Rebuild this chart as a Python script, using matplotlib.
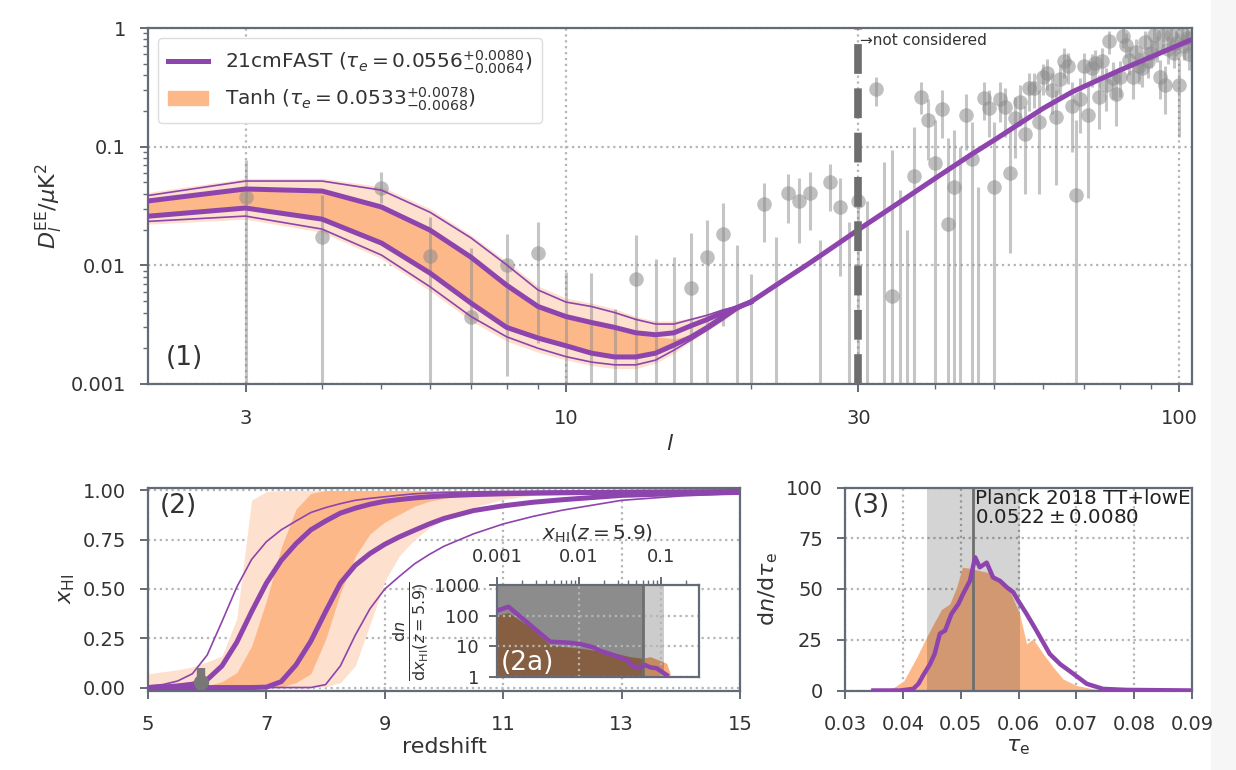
import numpy as np
import matplotlib.pyplot as plt
from matplotlib.ticker import FixedLocator, FixedFormatter, NullFormatter
from matplotlib.patches import Rectangle, Patch
from matplotlib.lines import Line2D

# ---- panel (1): EE power spectrum ----
ell_data = np.arange(3, 106)
dl_val = [0.038, 0.0173, 0.0448, 0.0120, 0.0037, 0.0100, 0.0127, np.nan, np.nan, np.nan,
          0.0077, np.nan, np.nan, 0.0064, 0.0117, 0.0184, np.nan, np.nan, 0.0328, np.nan,
          0.0407, 0.0348, 0.0407, np.nan, 0.050, 0.031, np.nan, 0.035, np.nan, 0.306,
          np.nan, 0.0055, np.nan, np.nan, 0.0565, 0.262, 0.167, 0.073, 0.207, 0.0223,
          0.0457, np.nan, 0.185, 0.0785, np.nan, 0.257, 0.21, 0.0457, 0.252, 0.215,
          0.06, 0.174, 0.237, 0.128, 0.31, 0.31, 0.16, 0.385, 0.42, 0.30,
          0.177, 0.37, 0.53, 0.48, 0.22, 0.039, 0.25, 0.48, 0.185, 0.46,
          0.51, 0.26, 0.53, 0.33, 0.77, 0.38, 0.28, 0.39, 0.85, 0.72,
          0.54, 0.39, 0.63, 0.48, 0.46, 0.76, 0.53, 0.62, 0.87, 0.68,
          0.39, 0.87, 0.33, 0.67, 0.87, 0.62, 0.75, 0.33, 0.90, 0.70,
          0.82, 0.60, 0.85]
dl_lo = [1e-5, 1e-5, 0.0335, 1e-5, 1e-5, 0.00116, 0.0022, 1e-5, 1e-5, 1e-5,
         1e-5, 1e-5, 1e-5, 1e-5, 1e-5, 0.0031, 1e-5, 1e-5, 0.0157, 1e-5,
         0.0227, 0.0154, 0.0198, 1e-5, 0.0287, 0.0081, 1e-5, 1e-5, 1e-5, 0.22,
         1e-5, 1e-5, 1e-5, 1e-5, 1e-5, 0.19, 0.077, 1e-5, 0.118, 1e-5,
         1e-5, 1e-5, 0.093, 1e-5, 1e-5, 0.167, 0.12, 1e-5, 0.16, 0.12,
         0.0127, 0.08, 0.15, 0.04, 0.20, 0.21, 0.04, 0.27, 0.30, 0.19,
         0.0475, 0.25, 0.38, 0.34, 0.09, 1e-5, 0.13, 0.34, 0.037, 0.32,
         0.37, 0.14, 0.38, 0.20, 0.60, 0.25, 0.15, 0.26, 0.68, 0.56,
         0.40, 0.25, 0.48, 0.34, 0.32, 0.60, 0.38, 0.46, 0.70, 0.52,
         0.25, 0.70, 0.19, 0.50, 0.70, 0.46, 0.58, 0.12, 0.72, 0.54,
         0.65, 0.44, 0.68]
dl_hi = [0.077, 0.039, 0.061, 0.0255, 0.014, 0.0184, 0.0232, 0.0088, 0.0086, 0.0043,
         0.018, 0.0113, 0.0117, 0.0187, 0.024, 0.0335, 0.0148, 0.0084, 0.049, 0.0173,
         0.0588, 0.0545, 0.061, 0.0163, 0.0713, 0.0545, 0.023, 0.045, 0.035, 0.385,
         0.074, 0.094, 0.043, 0.02, 0.146, 0.35, 0.25, 0.167, 0.30, 0.118,
         0.138, 0.10, 0.28, 0.16, 0.0457, 0.35, 0.30, 0.16, 0.35, 0.31,
         0.138, 0.26, 0.33, 0.22, 0.42, 0.42, 0.30, 0.50, 0.55, 0.42,
         0.30, 0.50, 0.68, 0.62, 0.35, 0.167, 0.38, 0.62, 0.33, 0.60,
         0.65, 0.40, 0.68, 0.46, 0.95, 0.52, 0.42, 0.53, 1.05, 0.90,
         0.70, 0.53, 0.80, 0.63, 0.61, 0.94, 0.69, 0.79, 1.06, 0.86,
         0.54, 1.06, 0.48, 0.85, 1.06, 0.80, 0.93, 0.55, 1.08, 0.88,
         1.00, 0.78, 1.03]

ell_band = np.arange(2, 21)
cm_hi68 = [0.034, 0.044, 0.0423, 0.031, 0.0198, 0.0117, 0.0068, 0.0045, 0.0037, 0.0033,
           0.0030, 0.0027, 0.0026, 0.0027, 0.0031, 0.0035, 0.0040, 0.0044, 0.0049]
cm_lo68 = [0.0255, 0.0304, 0.0245, 0.0154, 0.0086, 0.0048, 0.0030, 0.00244, 0.0021, 0.00182,
           0.00169, 0.00169, 0.00182, 0.00213, 0.00249, 0.0030, 0.00367, 0.0044, 0.0049]
cm_hi95 = [0.0376, 0.0513, 0.0513, 0.043, 0.028, 0.017, 0.0101, 0.0062, 0.0049, 0.0045,
           0.0040, 0.0035, 0.0032, 0.0032, 0.0035, 0.0038, 0.0042, 0.0045, 0.0049]
cm_lo95 = [0.0232, 0.026, 0.0202, 0.0122, 0.0066, 0.0037, 0.0025, 0.0020, 0.0017, 0.00153,
           0.00145, 0.00145, 0.00159, 0.00193, 0.00235, 0.00285, 0.00346, 0.0042, 0.0049]
th_hi68 = [0.033, 0.043, 0.041, 0.030, 0.019, 0.0113, 0.0066, 0.0044, 0.0036, 0.0032,
           0.0029, 0.0026, 0.0025, 0.0024, 0.0026, 0.0031, 0.0038, 0.0044, 0.0049]
th_lo68 = [0.026, 0.031, 0.025, 0.0157, 0.0088, 0.0049, 0.0031, 0.0025, 0.00215, 0.00186,
           0.00172, 0.00172, 0.00185, 0.00215, 0.0025, 0.0030, 0.0037, 0.0044, 0.0049]
th_hi95 = [0.040, 0.054, 0.054, 0.046, 0.030, 0.018, 0.0108, 0.0067, 0.0053, 0.0048,
           0.0043, 0.0037, 0.0034, 0.0034, 0.0036, 0.0039, 0.0043, 0.0046, 0.0049]
th_lo95 = [0.022, 0.0245, 0.019, 0.0114, 0.0061, 0.0034, 0.0023, 0.00185, 0.0016, 0.00143,
           0.00135, 0.00135, 0.0015, 0.00182, 0.0023, 0.0028, 0.0034, 0.0041, 0.0049]

ell_tail = [20, 22, 25, 30, 35, 40, 46, 50, 60, 67, 80, 90, 100, 105]
cm_tail = [0.0049, 0.0068, 0.0105, 0.020, 0.034, 0.054, 0.087, 0.114, 0.21, 0.29, 0.44, 0.57, 0.72, 0.80]

# ---- panel (2): neutral fraction history ----
z = [5.0, 5.25, 5.5, 5.75, 6.0, 6.25, 6.5, 6.75, 7.0, 7.25, 7.5, 7.75, 8.0, 8.25,
     8.5, 8.75, 9.0, 9.25, 9.5, 9.75, 10.0, 10.5, 11.0, 11.5, 12.0, 13.0, 14.0, 15.0]
x_cm95_hi = [0.008, 0.015, 0.033, 0.07, 0.165, 0.335, 0.51, 0.65, 0.74, 0.80, 0.845, 0.888, 0.913, 0.933,
             0.95, 0.96, 0.968, 0.976, 0.983, 0.987, 0.99, 0.993, 0.995, 0.996, 0.997, 0.998, 0.999, 0.999]
x_cm68_hi = [0.0, 0.003, 0.008, 0.017, 0.04, 0.11, 0.23, 0.385, 0.53, 0.645, 0.73, 0.80, 0.845, 0.885,
             0.91, 0.93, 0.945, 0.954, 0.962, 0.968, 0.973, 0.979, 0.983, 0.986, 0.988, 0.991, 0.993, 0.995]
x_cm68_lo = [0.0, 0.0, 0.0, 0.0, 0.0, 0.0, 0.0, 0.0, 0.002, 0.03, 0.115, 0.235, 0.385, 0.53,
             0.62, 0.68, 0.727, 0.765, 0.798, 0.83, 0.858, 0.898, 0.922, 0.94, 0.953, 0.975, 0.984, 0.99]
x_cm95_lo = [0.0, 0.0, 0.0, 0.0, 0.0, 0.0, 0.0, 0.0, 0.0, 0.0, 0.0, 0.0, 0.015, 0.11,
             0.265, 0.40, 0.50, 0.565, 0.627, 0.675, 0.717, 0.78, 0.83, 0.868, 0.90, 0.95, 0.972, 0.985]
x_th95_hi = [0.07, 0.08, 0.09, 0.105, 0.13, 0.16, 0.35, 0.95, 0.995, 1.0, 1.0, 1.0, 1.0, 1.0,
             1.0, 1.0, 1.0, 1.0, 1.0, 1.0, 1.0, 1.0, 1.0, 1.0, 1.0, 1.0, 1.0, 1.0]
x_th95_lo = [0.0, 0.0, 0.0, 0.0, 0.0, 0.0, 0.0, 0.0, 0.0, 0.0, 0.0, 0.0, 0.003, 0.025,
             0.11, 0.32, 0.54, 0.67, 0.75, 0.81, 0.855, 0.915, 0.955, 0.975, 0.99, 1.0, 1.0, 1.0]
x_th68_hi = [0.0, 0.0, 0.0, 0.005, 0.01, 0.03, 0.076, 0.21, 0.44, 0.71, 0.905, 0.985, 1.0, 1.0,
             1.0, 1.0, 1.0, 1.0, 1.0, 1.0, 1.0, 1.0, 1.0, 1.0, 1.0, 1.0, 1.0, 1.0]
x_th68_lo = [0.0, 0.0, 0.0, 0.0, 0.0, 0.0, 0.0, 0.0, 0.0, 0.003, 0.025, 0.07, 0.244, 0.48,
             0.665, 0.78, 0.84, 0.88, 0.92, 0.945, 0.96, 0.982, 0.99, 0.995, 0.998, 1.0, 1.0, 1.0]
mcg_z = [5.9]
mcg_x = [0.03]
mcg_err = [[0.04], [0.07]]

# ---- panel (2a): x_HI(z=5.9) distribution ----
xhi_cm = [0.001, 0.00138, 0.00443, 0.00776, 0.0103, 0.015, 0.018, 0.0262, 0.0382, 0.046,
          0.0555, 0.0638, 0.0734, 0.0886, 0.102, 0.117]
dn_cm = [145, 196, 14.2, 13.1, 11.9, 9.3, 7.2, 5.2, 3.6, 2.2, 2.07, 2.46, 2.07, 1.92, 1.49, 1.16]
xhi_th = [0.001, 0.00138, 0.00252, 0.00443, 0.0103, 0.0262, 0.0419, 0.0587, 0.0734, 0.0935,
          0.117, 0.129]
dn_th = [105, 125, 43.7, 11, 8.6, 6.2, 4.6, 4.1, 4.6, 3.6, 2.8, 1.3]
mcg_limit = 0.06
mcg_limit_1s = 0.11

# ---- panel (3): tau_e distribution ----
tau_cm = [0.0349, 0.0395, 0.0418, 0.0427, 0.0435, 0.0447, 0.0455, 0.0464, 0.0473, 0.0484,
          0.0496, 0.0504, 0.0516, 0.0525, 0.0533, 0.0545, 0.0556, 0.0568, 0.058, 0.0591,
          0.060, 0.0614, 0.0631, 0.0654, 0.0672, 0.0695, 0.0718, 0.0746, 0.0786, 0.09]
dn_tau_cm = [0, 0, 0.8, 3.3, 7.4, 13, 18, 28, 29.5, 37.7,
             42.6, 47.5, 54, 65.6, 60.7, 63, 55.7, 54, 50.8, 48.4,
             44, 37.7, 29.5, 18, 13, 8.2, 3.3, 0.8, 0.3, 0]
tau_th = [0.0363, 0.0385, 0.0402, 0.0424, 0.0438, 0.0453, 0.0467, 0.0481, 0.0493, 0.0503,
          0.0516, 0.0533, 0.055, 0.0568, 0.0585, 0.0602, 0.0614, 0.0625, 0.0643, 0.066,
          0.0677, 0.070, 0.0729, 0.0755]
dn_tau_th = [0, 1.6, 4.9, 16.4, 24.6, 32.8, 40, 42.6, 50.8, 60.7,
             60.2, 59, 58, 54, 49, 37.7, 23, 25.4, 18, 11.5,
             5.7, 2.5, 0.8, 0]
planck_tau = 0.0522
planck_err = 0.0080

# ---- style ----
purple = '#8e44ad'
orange = '#fdb88a'
orange_lt = '#fde0cd'
spine_c = '#646b77'
text_c = '#333333'
grid_kw = dict(color='#b5b5b5', ls=':', lw=1.6)

plt.rcParams.update({
    'font.family': ['DejaVu Sans'],
    'mathtext.fontset': 'dejavusans',
    'text.color': text_c,
    'axes.labelcolor': text_c,
    'xtick.color': spine_c,
    'ytick.color': spine_c,
    'xtick.labelcolor': text_c,
    'ytick.labelcolor': text_c,
    'xtick.labelsize': 14,
    'ytick.labelsize': 14,
    'axes.edgecolor': spine_c,
    'axes.linewidth': 1.6,
})


def style(ax):
    ax.set_axisbelow(True)
    ax.grid(True, which='major', **grid_kw)
    ax.tick_params(which='major', length=6, width=1.4)
    ax.tick_params(which='minor', length=3.5, width=1.0)
    ax.tick_params(axis='x', which='both', pad=12)
    ax.tick_params(axis='y', which='both', pad=10)


fig = plt.figure(figsize=(12.36, 7.7), dpi=100)
fig.add_artist(Rectangle((1211 / 1236, 0), 25 / 1236, 1, transform=fig.transFigure,
                         color='#f6f6f7', zorder=0))

# panel 1
ax1 = fig.add_axes([148 / 1236, 1 - 384 / 770, 1044 / 1236, 356 / 770])
ax1.set_xscale('log')
ax1.set_yscale('log')
ax1.fill_between(ell_band, th_lo95, th_hi95, color=orange_lt, lw=0, zorder=1)
ax1.fill_between(ell_band, th_lo68, th_hi68, color=orange, lw=0, zorder=1.1)
ax1.vlines(ell_data, dl_lo, dl_hi, color='#8c8c8c', alpha=0.5, lw=2.2, zorder=2)
ax1.plot(ell_data, dl_val, 'o', color='#8c8c8c', alpha=0.55, ms=10.5, mec='none', zorder=2)
ax1.plot(ell_band, cm_hi95, color=purple, lw=1.2, zorder=3)
ax1.plot(ell_band, cm_lo95, color=purple, lw=1.2, zorder=3)
ax1.plot(ell_band, cm_hi68, color=purple, lw=3.6, zorder=3)
ax1.plot(ell_band, cm_lo68, color=purple, lw=3.6, zorder=3)
ax1.plot(ell_tail, cm_tail, color=purple, lw=3.6, zorder=3)
ax1.axvline(30, color='#6e6e6e', lw=5.5, ls=(0, (3.9, 1.9)), zorder=4)
ax1.text(30.15, 0.78, '→not considered', fontsize=11, va='center', ha='left', zorder=5)
ax1.text(2.22, 0.00128, '(1)', fontsize=19, ha='left', va='bottom')
ax1.set_xlim(2.08, 105)
ax1.set_ylim(1e-3, 1)
ax1.xaxis.set_major_locator(FixedLocator([3, 10, 30, 100]))
ax1.xaxis.set_major_formatter(FixedFormatter(['3', '10', '30', '100']))
ax1.xaxis.set_minor_locator(FixedLocator([2, 4, 5, 6, 7, 8, 9, 20, 40, 50, 60, 70, 80, 90]))
ax1.xaxis.set_minor_formatter(NullFormatter())
ax1.yaxis.set_major_locator(FixedLocator([1e-3, 1e-2, 1e-1, 1]))
ax1.yaxis.set_major_formatter(FixedFormatter(['0.001', '0.01', '0.1', '1']))
ax1.yaxis.set_minor_locator(FixedLocator([m * 10.0 ** e for e in (-3, -2, -1) for m in range(2, 10)]))
ax1.yaxis.set_minor_formatter(NullFormatter())
style(ax1)
ax1.set_xlabel('$l$', fontsize=16)
ax1.set_ylabel(r'$D_l^{\rm EE}/\mu{\rm K}^2$', fontsize=16)
handles = [Line2D([], [], color=purple, lw=3.6), Patch(color=orange)]
labels = [r'21cmFAST ($\tau_e = 0.0556^{+0.0080}_{-0.0064}$)',
          r'Tanh ($\tau_e = 0.0533^{+0.0078}_{-0.0068}$)']
ax1.legend(handles, labels, loc='upper left', fontsize=14.5, framealpha=1,
           edgecolor='#dddddd', borderpad=0.5, labelspacing=0.5)

# panel 2
ax2 = fig.add_axes([148 / 1236, 1 - 690.5 / 770, 592 / 1236, 203 / 770])
ax2.fill_between(z, x_th95_lo, x_th95_hi, color=orange_lt, lw=0, zorder=1)
ax2.fill_between(z, x_th68_lo, x_th68_hi, color=orange, lw=0, zorder=1.1)
ax2.plot(z, x_cm95_hi, color=purple, lw=1.2, zorder=3)
ax2.plot(z, x_cm95_lo, color=purple, lw=1.2, zorder=3)
ax2.plot(z, x_cm68_hi, color=purple, lw=3.6, zorder=3)
ax2.plot(z, x_cm68_lo, color=purple, lw=3.6, zorder=3)
ax2.errorbar(mcg_z, mcg_x, yerr=mcg_err, fmt='o', color='#777777', ms=10, elinewidth=6,
             capsize=0, zorder=4)
ax2.set_xlim(5, 15)
ax2.set_ylim(-0.015, 1.015)
ax2.set_xticks([5, 7, 9, 11, 13, 15])
ax2.set_yticks([0, 0.25, 0.5, 0.75, 1.0])
ax2.set_yticklabels(['0.00', '0.25', '0.50', '0.75', '1.00'])
style(ax2)
ax2.set_xlabel('redshift', fontsize=16, labelpad=2)
ax2.set_ylabel(r'$x_{\rm HI}$', fontsize=16)
ax2.text(5.2, 0.985, '(2)', fontsize=19, ha='left', va='top')

# panel 2a (inset)
axin = fig.add_axes([497 / 1236, 1 - 677 / 770, 202 / 1236, 92 / 770])
axin.set_xscale('log')
axin.set_yscale('log')
axin.fill_between(xhi_th, 0.5, dn_th, color='#f4a46a', lw=0, alpha=0.9, zorder=1)
axin.axvspan(1e-3, mcg_limit, color='black', alpha=0.45, lw=0, zorder=1.5)
axin.axvspan(mcg_limit, mcg_limit_1s, color='black', alpha=0.2, lw=0, zorder=1.5)
axin.axvline(mcg_limit, color='#6e6e6e', lw=2, zorder=1.6)
axin.plot(xhi_cm, dn_cm, color=purple, lw=3.2, zorder=3)
axin.set_xlim(1e-3, 0.29)
axin.set_ylim(1, 1000)
axin.xaxis.tick_top()
axin.xaxis.set_label_position('top')
axin.xaxis.set_major_locator(FixedLocator([1e-3, 1e-2, 1e-1]))
axin.xaxis.set_major_formatter(FixedFormatter(['0.001', '0.01', '0.1']))
axin.xaxis.set_minor_locator(FixedLocator([m * 10.0 ** e for e in (-3, -2, -1) for m in range(2, 10)]))
axin.xaxis.set_minor_formatter(NullFormatter())
axin.yaxis.set_major_locator(FixedLocator([1, 10, 100, 1000]))
axin.yaxis.set_major_formatter(FixedFormatter(['1', '10', '100', '1000']))
axin.yaxis.set_minor_locator(FixedLocator([]))
axin.grid(True, which='major', zorder=2, **grid_kw)
axin.tick_params(which='major', length=6, width=1.4, labelsize=13)
axin.tick_params(which='minor', length=3.5, width=1.0)
axin.tick_params(axis='x', which='both', pad=8)
axin.tick_params(axis='y', which='both', pad=7)
axin.set_xlabel(r'$x_{\rm HI}(z=5.9)$', fontsize=14.5, labelpad=6)
axin.set_ylabel(r'$\frac{{\rm d}n}{{\rm d}x_{\rm HI}(z=5.9)}$', fontsize=16.5, labelpad=2)
axin.text(1.1e-3, 1.1, '(2a)', fontsize=19, color='white', ha='left', va='bottom', zorder=4)

# panel 3
ax3 = fig.add_axes([845 / 1236, 1 - 690.5 / 770, 347 / 1236, 203 / 770])
ax3.fill_between(tau_th, 0, dn_tau_th, color=orange, lw=0, zorder=1)
ax3.axvspan(planck_tau - planck_err, planck_tau + planck_err, color='black', alpha=0.17, lw=0,
            zorder=1.5)
ax3.axvline(planck_tau, color='#6e6e6e', lw=2, zorder=1.6)
ax3.plot(tau_cm, dn_tau_cm, color=purple, lw=3.2, zorder=3)
ax3.text(planck_tau + 0.0002, 99.5, 'Planck 2018 TT+lowE\n' + r'$0.0522 \pm 0.0080$', fontsize=14.3,
         ha='left', va='top', color='#222222', linespacing=1.0)
ax3.set_xlim(0.03, 0.09)
ax3.set_ylim(0, 100)
ax3.set_xticks([0.03, 0.04, 0.05, 0.06, 0.07, 0.08, 0.09])
ax3.set_yticks([0, 25, 50, 75, 100])
style(ax3)
ax3.set_xlabel(r'$\tau_{\rm e}$', fontsize=16, labelpad=2)
ax3.set_ylabel(r'${\rm d}n/{\rm d}\tau_{\rm e}$', fontsize=16)
ax3.text(0.0314, 97.5, '(3)', fontsize=19, ha='left', va='top')

fig.savefig('out.png', dpi=100)
